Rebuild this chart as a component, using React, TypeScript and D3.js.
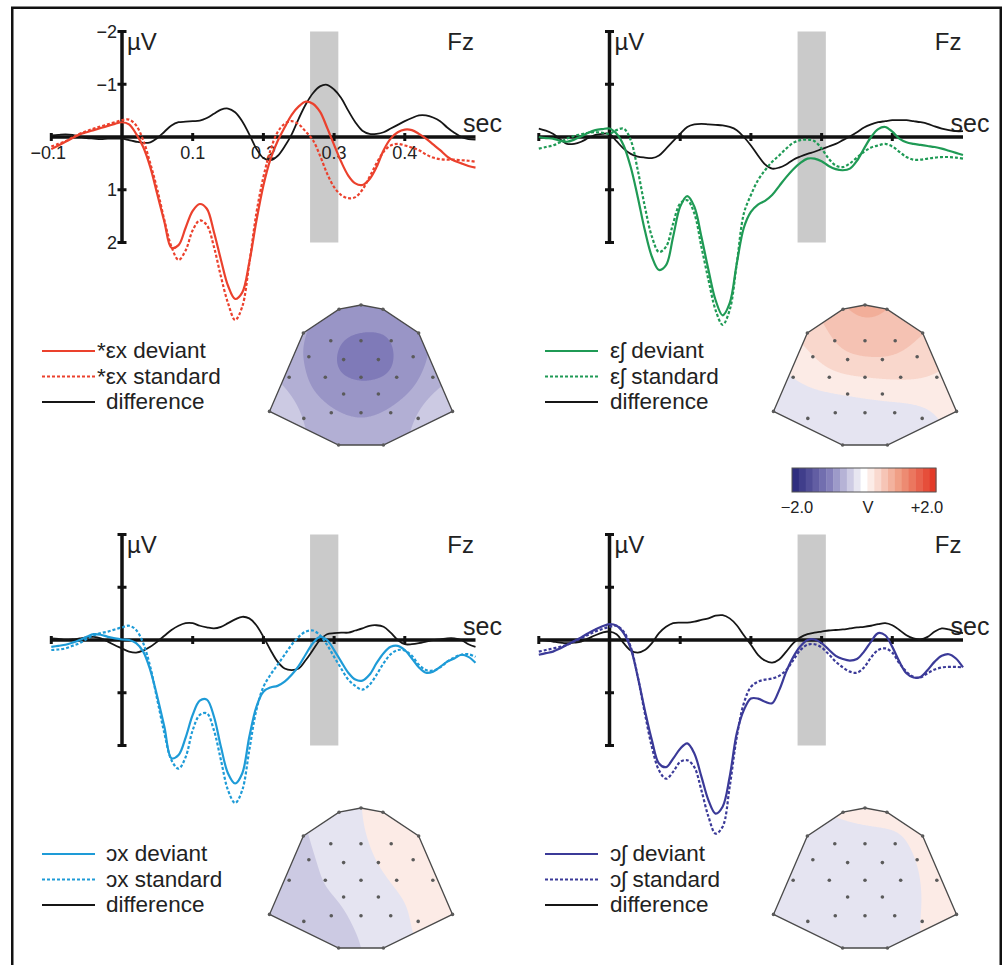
import { useEffect, useRef } from 'react';
import * as d3 from 'd3';

// sample times, -100 .. 500 ms in 10 ms steps
const TIME = d3.range(-100, 501, 10).map(ms => ms / 1000);

const EX_DEVIANT = [0.23, 0.16, 0.09, 0.02, -0.05, -0.09, -0.13, -0.17, -0.21, -0.25, -0.28,
  -0.24, -0.06, 0.19, 0.57, 1.09, 1.61, 2.1, 2.05, 1.72, 1.4,
  1.27, 1.36, 1.8, 2.33, 2.82, 3.07, 2.95, 2.38, 1.6, 0.92,
  0.42, 0.08, -0.18, -0.42, -0.58, -0.67, -0.63, -0.48, -0.18, 0.15,
  0.47, 0.73, 0.88, 0.91, 0.8, 0.57, 0.25, 0.03, -0.09, -0.14,
  -0.13, -0.06, 0.03, 0.14, 0.25, 0.37, 0.45, 0.5, 0.55, 0.58];
const EX_STANDARD = [0.18, 0.13, 0.08, 0.01, -0.06, -0.11, -0.16, -0.2, -0.24, -0.28, -0.32,
  -0.33, -0.22, 0.06, 0.5, 1.0, 1.58, 2.08, 2.33, 2.15, 1.77,
  1.58, 1.67, 2.08, 2.65, 3.15, 3.47, 3.22, 2.4, 1.45, 0.76,
  0.25, -0.09, -0.25, -0.3, -0.24, -0.1, 0.06, 0.35, 0.69, 0.95,
  1.1, 1.16, 1.14, 1.0, 0.76, 0.5, 0.28, 0.16, 0.13, 0.16,
  0.2, 0.25, 0.33, 0.39, 0.42, 0.43, 0.43, 0.44, 0.45, 0.47];
const EX_DIFF = [-0.03, -0.04, -0.05, -0.04, -0.01, 0.02, 0.03, 0.04, 0.03, 0.03, 0.03,
  0.06, 0.09, 0.11, 0.1, 0.02, -0.1, -0.22, -0.28, -0.29, -0.3,
  -0.31, -0.36, -0.44, -0.52, -0.54, -0.47, -0.3, -0.05, 0.22, 0.4,
  0.44, 0.36, 0.18, -0.05, -0.35, -0.62, -0.83, -0.96, -0.99, -0.9,
  -0.74, -0.5, -0.28, -0.12, -0.06, -0.06, -0.09, -0.16, -0.23, -0.3,
  -0.36, -0.41, -0.41, -0.37, -0.3, -0.18, -0.08, 0.0, 0.04, 0.05];

const ESH_DEVIANT = [0.0, 0.02, 0.03, 0.07, 0.09, 0.05, -0.01, -0.08, -0.13, -0.15, -0.16,
  -0.06, 0.16, 0.57, 1.14, 1.77, 2.27, 2.52, 2.43, 1.89, 1.32,
  1.12, 1.32, 1.89, 2.52, 3.09, 3.38, 3.15, 2.4, 1.72, 1.42,
  1.28, 1.21, 1.1, 0.93, 0.76, 0.61, 0.49, 0.41, 0.41, 0.46,
  0.55, 0.61, 0.63, 0.6, 0.45, 0.22, 0.0, -0.15, -0.19, -0.1,
  0.03, 0.1, 0.13, 0.15, 0.17, 0.19, 0.22, 0.26, 0.3, 0.34];
const ESH_STANDARD = [0.22, 0.19, 0.16, 0.1, 0.03, -0.02, -0.05, -0.08, -0.09, -0.08, -0.06,
  -0.13, -0.16, 0.06, 0.63, 1.32, 1.89, 2.18, 2.08, 1.64, 1.26,
  1.2, 1.45, 2.08, 2.71, 3.28, 3.56, 3.28, 2.4, 1.45, 1.1,
  0.82, 0.63, 0.47, 0.35, 0.22, 0.11, 0.06, 0.05, 0.08, 0.22,
  0.41, 0.54, 0.57, 0.5, 0.39, 0.28, 0.2, 0.16, 0.13, 0.18,
  0.28, 0.38, 0.43, 0.43, 0.41, 0.39, 0.38, 0.38, 0.39, 0.41];
const ESH_DIFF = [-0.16, -0.12, -0.06, 0.04, 0.13, 0.13, 0.09, 0.02, -0.04, -0.06, -0.06,
  0.08, 0.22, 0.32, 0.37, 0.39, 0.4, 0.35, 0.22, 0.08, -0.06,
  -0.19, -0.24, -0.25, -0.24, -0.23, -0.22, -0.19, -0.13, 0.0, 0.16,
  0.35, 0.52, 0.6, 0.58, 0.52, 0.43, 0.37, 0.32, 0.28, 0.23,
  0.18, 0.13, 0.06, -0.01, -0.09, -0.18, -0.24, -0.28, -0.3, -0.32,
  -0.32, -0.32, -0.3, -0.28, -0.25, -0.2, -0.16, -0.13, -0.11, -0.11];

const OX_DEVIANT = [0.13, 0.11, 0.09, 0.05, 0.0, -0.06, -0.11, -0.1, -0.06, -0.03, -0.01,
  0.0, 0.06, 0.22, 0.57, 1.08, 1.65, 2.24, 2.18, 1.85, 1.42,
  1.15, 1.13, 1.45, 2.03, 2.53, 2.72, 2.53, 1.84, 1.27, 0.98,
  0.9, 0.87, 0.79, 0.66, 0.49, 0.27, 0.06, -0.06, 0.0, 0.19,
  0.41, 0.62, 0.75, 0.77, 0.66, 0.44, 0.25, 0.13, 0.11, 0.19,
  0.35, 0.52, 0.62, 0.6, 0.51, 0.41, 0.35, 0.28, 0.32, 0.43];
const OX_STANDARD = [0.19, 0.18, 0.16, 0.11, 0.06, -0.02, -0.09, -0.13, -0.16, -0.2, -0.24,
  -0.27, -0.19, 0.06, 0.51, 1.14, 1.77, 2.28, 2.44, 2.22, 1.71,
  1.42, 1.39, 1.71, 2.28, 2.85, 3.09, 2.85, 2.09, 1.33, 0.89,
  0.66, 0.47, 0.28, 0.09, -0.06, -0.16, -0.18, -0.09, 0.09, 0.32,
  0.54, 0.75, 0.87, 0.94, 0.85, 0.66, 0.44, 0.27, 0.19, 0.2,
  0.3, 0.47, 0.57, 0.58, 0.52, 0.41, 0.33, 0.28, 0.27, 0.32];
const OX_DIFF = [-0.03, -0.02, 0.0, -0.01, -0.03, -0.05, -0.06, -0.03, 0.03, 0.1, 0.16,
  0.22, 0.24, 0.2, 0.13, 0.03, -0.08, -0.19, -0.27, -0.32, -0.32,
  -0.27, -0.24, -0.22, -0.25, -0.32, -0.39, -0.44, -0.41, -0.28, -0.06,
  0.19, 0.41, 0.54, 0.57, 0.54, 0.38, 0.19, 0.0, -0.11, -0.13,
  -0.14, -0.14, -0.18, -0.22, -0.27, -0.28, -0.25, -0.14, 0.0, 0.08,
  0.08, 0.06, 0.03, 0.0, -0.01, -0.03, -0.03, 0.0, 0.08, 0.13];

const OSH_DEVIANT = [0.28, 0.25, 0.22, 0.16, 0.09, 0.02, -0.05, -0.13, -0.2, -0.26, -0.3,
  -0.27, -0.13, 0.16, 0.7, 1.33, 1.9, 2.34, 2.41, 2.25, 2.06,
  1.96, 2.15, 2.59, 3.04, 3.29, 3.16, 2.59, 1.77, 1.33, 1.11,
  1.11, 1.17, 1.2, 0.95, 0.6, 0.32, 0.12, 0.0, -0.01, 0.06,
  0.18, 0.3, 0.36, 0.39, 0.36, 0.22, 0.03, -0.13, -0.09, 0.13,
  0.41, 0.63, 0.71, 0.7, 0.57, 0.41, 0.3, 0.27, 0.35, 0.52];
const OSH_STANDARD = [0.22, 0.19, 0.16, 0.13, 0.09, 0.03, -0.03, -0.1, -0.16, -0.21, -0.25,
  -0.27, -0.16, 0.13, 0.7, 1.39, 2.03, 2.47, 2.63, 2.5, 2.31,
  2.28, 2.41, 2.85, 3.35, 3.67, 3.54, 2.78, 1.84, 1.2, 0.89,
  0.79, 0.75, 0.73, 0.68, 0.57, 0.38, 0.19, 0.09, 0.08, 0.14,
  0.27, 0.41, 0.52, 0.6, 0.62, 0.52, 0.33, 0.19, 0.16, 0.24,
  0.44, 0.6, 0.7, 0.71, 0.63, 0.56, 0.52, 0.51, 0.51, 0.52];
const OSH_DIFF = [0.0, 0.01, 0.03, 0.05, 0.06, 0.05, 0.03, -0.03, -0.09, -0.14, -0.16,
  -0.11, 0.06, 0.2, 0.24, 0.19, 0.06, -0.13, -0.25, -0.32, -0.33,
  -0.33, -0.35, -0.38, -0.41, -0.46, -0.47, -0.41, -0.28, -0.09, 0.09,
  0.28, 0.39, 0.43, 0.37, 0.22, 0.06, -0.05, -0.11, -0.14, -0.16,
  -0.18, -0.19, -0.2, -0.22, -0.24, -0.25, -0.27, -0.3, -0.32, -0.28,
  -0.19, -0.09, -0.03, -0.01, -0.06, -0.16, -0.22, -0.2, -0.16, -0.13];

// electrode montage, x: left..right (-1..1), y: front..back (0..1)
const ELEC_X = [0, -0.24, 0.24, -0.63, 0.63, -1, 1, -0.245, 0.245,
  -0.33, 0, 0.33, -0.57, -0.19, 0.19, 0.57, -0.785, -0.39, 0, 0.39, 0.785,
  -0.19, 0.19, -0.625, -0.325, 0, 0.325, 0.625];
const ELEC_Y = [0, 0.03, 0.03, 0.2, 0.2, 0.76, 0.76, 1, 1,
  0.255, 0.255, 0.255, 0.37, 0.39, 0.39, 0.37, 0.516, 0.516, 0.516, 0.516, 0.516,
  0.636, 0.636, 0.81, 0.77, 0.77, 0.77, 0.81];
const HULL = [5, 3, 1, 0, 2, 4, 6, 8, 7];

// difference amplitude per electrode in the grey window (µV)
const TOPO_EX = [-0.6, -0.6, -0.6, -0.5, -0.5, -0.2, -0.15, -0.4, -0.4,
  -0.75, -0.9, -0.9, -0.6, -0.95, -0.95, -0.65, -0.4, -0.75, -0.9, -0.8, -0.45,
  -0.7, -0.7, -0.35, -0.55, -0.6, -0.55, -0.3];
const TOPO_ESH = [0.7, 0.6, 0.6, 0.2, 0.4, -0.15, 0.05, -0.2, -0.2,
  0.5, 0.55, 0.55, 0.15, 0.5, 0.5, 0.3, -0.05, 0.05, 0.15, 0.2, 0.15,
  0.0, 0.05, -0.15, -0.2, -0.2, -0.15, -0.05];
const TOPO_OX = [0.0, -0.1, 0.1, -0.25, 0.12, -0.4, 0.1, -0.35, -0.1,
  -0.1, -0.02, 0.1, -0.25, -0.12, 0.02, 0.12, -0.4, -0.18, -0.1, 0.05, 0.12,
  -0.15, -0.08, -0.4, -0.35, -0.12, -0.06, 0.05];
const TOPO_OSH = [0.08, 0.05, 0.08, -0.02, 0.08, -0.1, 0.1, -0.1, -0.05,
  -0.1, -0.08, -0.05, -0.12, -0.12, -0.1, 0.03, -0.12, -0.12, -0.12, -0.08, 0.08,
  -0.12, -0.1, -0.12, -0.12, -0.12, -0.08, 0.03];

const SCALE_DOMAIN = [-2, -1, 0, 1, 2];
const SCALE_COLORS = ['#272679', '#7f7ab8', '#ffffff', '#ef9a80', '#e2301e'];

const Y_TICKS = [-2, -1, 0, 1, 2];
const X_TICKS = [-0.1, 0.1, 0.2, 0.3, 0.4];
const WINDOW = [0.266, 0.306];

const PANELS = [
  { id: 'ex', col: 0, row: 0, color: '#eb412d', deviant: EX_DEVIANT, standard: EX_STANDARD, difference: EX_DIFF, topo: TOPO_EX, labels: ['*εx deviant', '*εx standard', 'difference'], tickLabels: true },
  { id: 'esh', col: 1, row: 0, color: '#1f9a55', deviant: ESH_DEVIANT, standard: ESH_STANDARD, difference: ESH_DIFF, topo: TOPO_ESH, labels: ['εʃ deviant', 'εʃ standard', 'difference'], tickLabels: false },
  { id: 'ox', col: 0, row: 1, color: '#1e9bd7', deviant: OX_DEVIANT, standard: OX_STANDARD, difference: OX_DIFF, topo: TOPO_OX, labels: ['ɔx deviant', 'ɔx standard', 'difference'], tickLabels: false },
  { id: 'osh', col: 1, row: 1, color: '#3b3a98', deviant: OSH_DEVIANT, standard: OSH_STANDARD, difference: OSH_DIFF, topo: TOPO_OSH, labels: ['ɔʃ deviant', 'ɔʃ standard', 'difference'], tickLabels: false },
];

const W = 1003;
const H = 965;
const FONT = '"Liberation Sans", Arial, Helvetica, sans-serif';
const AXIS_X = [122, 609.5];
const AXIS_Y = [137, 640];
const MAP_CX = [361, 865];
const MAP_TOP = [305, 808];
const LEGEND_X = [42, 545];
const TEXT_X = [106, 610];
const STEP = 0.2;
const SIGMA = 20;

export default function App() {
  const svgRef = useRef<SVGSVGElement>(null);

  useEffect(() => {
    const svg = d3.select(svgRef.current);
    svg.selectAll('*').remove();

    svg.append('rect').attr('width', W).attr('height', H).attr('fill', '#fff');
    svg.append('rect')
      .attr('x', 12.25).attr('y', 7.75).attr('width', 988.5).attr('height', 1000)
      .attr('fill', 'none').attr('stroke', '#111').attr('stroke-width', 2.5);

    const topoColor = d3.scaleLinear<string>().domain(SCALE_DOMAIN).range(SCALE_COLORS).clamp(true);
    const defs = svg.append('defs');

    PANELS.forEach(p => {
      const x0 = AXIS_X[p.col];
      const y0 = AXIS_Y[p.row];
      const x = d3.scaleLinear().domain([-0.1, 0.5]).range([x0 - 70.7, x0 + 353.5]);
      const y = d3.scaleLinear().domain([-2, 2]).range([y0 - 105.5, y0 + 105.5]);
      const g = svg.append('g');

      // analysis window
      g.append('rect')
        .attr('x', x(WINDOW[0])).attr('width', x(WINDOW[1]) - x(WINDOW[0]))
        .attr('y', y(-2)).attr('height', y(2) - y(-2))
        .attr('fill', '#cacaca');

      // axes
      g.append('line').attr('x1', x0).attr('x2', x0).attr('y1', y(-2)).attr('y2', y(2))
        .attr('stroke', '#111').attr('stroke-width', 3.5);
      g.selectAll('.ytick').data(Y_TICKS.filter(v => v !== 0)).join('line')
        .attr('x1', x0 - 4.5).attr('x2', x0 + 4.5).attr('y1', d => y(d)).attr('y2', d => y(d))
        .attr('stroke', '#111').attr('stroke-width', 3);
      g.append('line').attr('x1', x(-0.1)).attr('x2', x(0.5)).attr('y1', y0).attr('y2', y0)
        .attr('stroke', '#111').attr('stroke-width', 3.5);
      g.selectAll('.xtick').data(X_TICKS).join('line')
        .attr('x1', d => x(d)).attr('x2', d => x(d)).attr('y1', y0 - 4).attr('y2', y0 + 4)
        .attr('stroke', '#111').attr('stroke-width', 3);

      if (p.tickLabels) {
        g.selectAll('.xl').data(X_TICKS).join('text')
          .attr('x', d => x(d) + (d < 0 ? -3 : 0)).attr('y', y0 + 22)
          .attr('text-anchor', 'middle').attr('font-size', 18).attr('font-family', FONT).attr('fill', '#222')
          .text(d => d3.format('.1f')(d).replace('-', '−'));
        g.selectAll('.yl').data(Y_TICKS.filter(v => v !== 0)).join('text')
          .attr('x', x0 - 5).attr('y', d => y(d)).attr('dy', '0.36em')
          .attr('text-anchor', 'end').attr('font-size', 18).attr('font-family', FONT).attr('fill', '#222')
          .text(d => String(d).replace('-', '−'));
      }

      g.append('text').attr('x', x0 + 5).attr('y', y0 - 87)
        .attr('font-size', 24).attr('font-family', FONT).attr('fill', '#222').text('µV');
      g.append('text').attr('x', x0 + 352).attr('y', y0 - 87).attr('text-anchor', 'end')
        .attr('font-size', 24).attr('font-family', FONT).attr('fill', '#222').text('Fz');
      g.append('text').attr('x', x0 + 341).attr('y', y0 - 5)
        .attr('font-size', 25).attr('font-family', FONT).attr('fill', '#222').text('sec');

      // waveforms
      const line = d3.line<number>()
        .x((_, i) => x(TIME[i]))
        .y(v => y(v))
        .curve(d3.curveCatmullRom.alpha(0.5));
      const series = [
        { values: p.difference, color: '#161616', width: 1.8, dash: null },
        { values: p.standard, color: p.color, width: 2.2, dash: '3,2' },
        { values: p.deviant, color: p.color, width: 2.2, dash: null },
      ];
      series.forEach(s => {
        g.append('path').attr('d', line(s.values))
          .attr('fill', 'none').attr('stroke', s.color).attr('stroke-width', s.width)
          .attr('stroke-dasharray', s.dash).attr('stroke-linejoin', 'round');
      });

      // legend
      const legendRows = [
        { label: p.labels[0], color: p.color, width: 2.2, dash: null },
        { label: p.labels[1], color: p.color, width: 2.2, dash: '3,2' },
        { label: p.labels[2], color: '#161616', width: 1.8, dash: null },
      ];
      legendRows.forEach((r, i) => {
        const base = y0 + 221 + i * 25.5;
        g.append('line')
          .attr('x1', LEGEND_X[p.col]).attr('x2', LEGEND_X[p.col] + 53)
          .attr('y1', base - 7).attr('y2', base - 7)
          .attr('stroke', r.color).attr('stroke-width', r.width).attr('stroke-dasharray', r.dash);
        g.append('text')
          .attr('x', TEXT_X[p.col] - (r.label.startsWith('*') ? 9 : 0)).attr('y', base)
          .attr('font-size', 22.5).attr('font-family', FONT).attr('fill', '#222')
          .text(r.label);
      });

      // topographic map: gaussian-weighted interpolation of electrode values
      const cx = MAP_CX[p.col];
      const top = MAP_TOP[p.row];
      const mx = d3.scaleLinear().domain([-1, 1]).range([cx - 91.5, cx + 91.5]);
      const my = d3.scaleLinear().domain([0, 1]).range([top, top + 140]);
      const ex = ELEC_X.map(v => mx(v));
      const ey = ELEC_Y.map(v => my(v));
      const pad = 4;
      const left = cx - 92 - pad;
      const gTop = top - pad;
      const n = 184 + 2 * pad;
      const m = 141 + 2 * pad;
      const grid = new Array(n * m);
      const s2 = 2 * SIGMA * SIGMA;
      for (let j = 0; j < m; j++) {
        for (let i = 0; i < n; i++) {
          const px = left + i + 0.5;
          const py = gTop + j + 0.5;
          let sw = 0;
          let sv = 0;
          for (let k = 0; k < ex.length; k++) {
            const d2 = (px - ex[k]) ** 2 + (py - ey[k]) ** 2;
            const w = Math.exp(-d2 / s2) + 1e-12;
            sw += w;
            sv += w * p.topo[k];
          }
          grid[i + j * n] = sv / sw;
        }
      }
      const lo = Math.floor(d3.min(grid)! / STEP) * STEP;
      const hi = d3.max(grid)!;
      const thresholds = d3.range(-11, 12).map(k => +(k * STEP).toFixed(2)).filter(t => t >= lo - 1e-9 && t <= hi);
      const contours = d3.contours().size([n, m]).thresholds(thresholds)(grid);

      const hullPts = HULL.map(k => [ex[k], ey[k]]);
      defs.append('clipPath').attr('id', `hull-${p.id}`)
        .append('polygon').attr('points', hullPts.map(q => q.join(',')).join(' '));
      const tg = svg.append('g').attr('clip-path', `url(#hull-${p.id})`);
      tg.append('g').attr('transform', `translate(${left},${gTop})`)
        .selectAll('path').data(contours).join('path')
        .attr('d', d3.geoPath())
        .attr('fill', c => topoColor(c.value < 0 ? c.value : c.value + STEP));

      svg.append('polygon').attr('points', hullPts.map(q => q.join(',')).join(' '))
        .attr('fill', 'none').attr('stroke', '#4a4a4a').attr('stroke-width', 1.3);
      svg.append('g').selectAll('circle').data(d3.range(ex.length)).join('circle')
        .attr('cx', k => ex[k]).attr('cy', k => ey[k]).attr('r', 1.8)
        .attr('fill', '#5a5a5a');
    });

    // colour scale
    const cb = { x: 792, y: 468, w: 144, h: 24 };
    const cbx = d3.scaleLinear().domain([-2, 2]).range([cb.x, cb.x + cb.w]);
    const nBands = 21;
    const bands = d3.range(nBands).map(i => -2 + (i + 0.5) * 4 / nBands);
    svg.append('g').selectAll('rect').data(bands).join('rect')
      .attr('x', (_, i) => cbx(-2 + i * 4 / nBands))
      .attr('width', cb.w / nBands + 0.4)
      .attr('y', cb.y).attr('height', cb.h)
      .attr('fill', d => topoColor(d));
    svg.append('rect').attr('x', cb.x).attr('y', cb.y).attr('width', cb.w).attr('height', cb.h)
      .attr('fill', 'none').attr('stroke', '#555').attr('stroke-width', 1);
    const cbLabels = [
      { v: -2, text: '−2.0', dx: 5 },
      { v: 0, text: 'V', dx: 4 },
      { v: 2, text: '+2.0', dx: -9 },
    ];
    svg.append('g').selectAll('text').data(cbLabels).join('text')
      .attr('x', d => cbx(d.v) + d.dx).attr('y', cb.y + 45)
      .attr('text-anchor', 'middle').attr('font-size', 16.5).attr('font-family', FONT).attr('fill', '#222')
      .text(d => d.text);
  }, []);

  return (
    <svg
      ref={svgRef}
      width={W}
      height={H}
      style={{ position: 'absolute', left: 0, top: 0, display: 'block' }}
    />
  );
}
